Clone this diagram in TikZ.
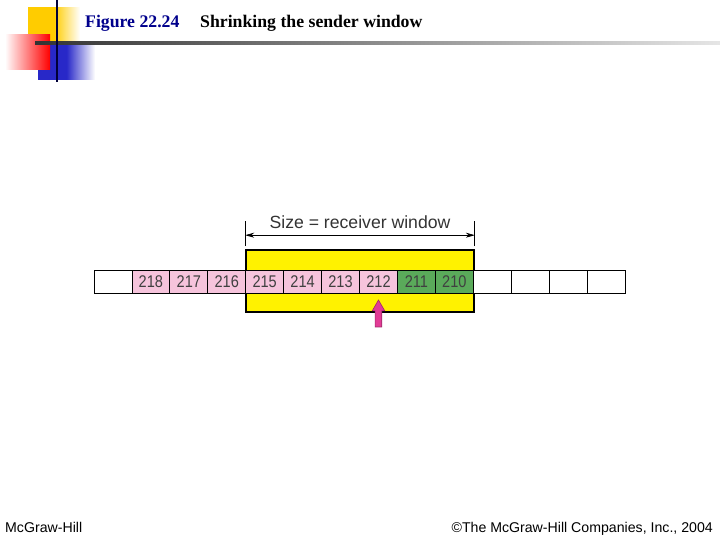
\documentclass[tikz,border=0pt]{standalone}
\usepackage{fontspec}
\setmainfont{Liberation Serif}
\setsansfont{Liberation Sans}
\newfontfamily\cellfont[FakeStretch=0.86]{Liberation Sans}
\usetikzlibrary{arrows.meta,positioning,shapes.arrows}
\definecolor{cellpink}{RGB}{246,196,220}
\definecolor{cellgreen}{RGB}{90,170,90}
\definecolor{navytitle}{RGB}{0,0,140}
\definecolor{ptrmag}{RGB}{226,60,150}
\definecolor{logoyel}{RGB}{255,204,0}
\definecolor{logoblue}{RGB}{40,40,200}

\begin{document}
\begin{tikzpicture}[x=1bp,y=-1bp,
    cell/.style={draw,line width=0.8pt,minimum width=37.93bp,minimum height=23bp,
      inner sep=0pt,font=\cellfont\fontsize{17}{17}\selectfont,text=black!75},
    winbox/.style={draw,line width=1.6pt,fill=yellow,minimum width=228bp,minimum height=62bp},
    foot/.style={font=\sffamily\fontsize{14.2}{15}\selectfont,inner sep=0pt}]
  \useasboundingbox (0,0) rectangle (720,540);
  % logo
  \shade[left color=logoyel,right color=white,middle color=logoyel] (28,8) rectangle (80,44);
  \shade[left color=logoblue,right color=white,middle color=logoblue] (38,45) rectangle (95,80);
  \shade[left color=white,right color=red] (5,35) rectangle (50,70);
  \shade[left color=black!80,right color=black!10] (35,41.5) rectangle (720,44.5);
  \draw[navytitle!40!black,line width=2.5pt] (57,0) -- (57,82);
  \node[anchor=base west,inner sep=0pt,text=navytitle,font=\bfseries\fontsize{17.8}{18}\selectfont] (fig) at (85,28) {Figure 22.24};
  \node[anchor=base west,inner sep=0pt,font=\bfseries\fontsize{17.8}{18}\selectfont] (ttl) at (200,28) {Shrinking the sender window};

  % window and cells
  \node[winbox] (win) at (360,281) {};
  \foreach \lbl/\col [count=\i] in {{}/white,218/cellpink,217/cellpink,216/cellpink,
      215/cellpink,214/cellpink,213/cellpink,212/cellpink,211/cellgreen,210/cellgreen,
      {}/white,{}/white,{}/white,{}/white}
    \node[cell,fill=\col] (c\i) at ({94+37.93*(\i-0.5)},281.5) {\lbl};

  % size of the window
  \coordinate (tlb) at ([yshift=3bp]win.north west);
  \coordinate (tlt) at ([yshift=28bp]win.north west);
  \coordinate (trb) at ([yshift=3bp]win.north east);
  \coordinate (trt) at ([yshift=28bp]win.north east);
  \coordinate (al) at ([yshift=14bp]win.north west);
  \coordinate (ar) at ([yshift=14bp]win.north east);
  \draw[line width=0.7pt] (tlb) -- (tlt) (trb) -- (trt);
  \draw[{Stealth[length=9bp,width=5bp]}-{Stealth[length=9bp,width=5bp]},line width=0.7pt] (al) -- (ar);
  \node[font=\sffamily\fontsize{17.7}{18}\selectfont,text=black!80,inner sep=0pt] (size) at (360,222) {Size = receiver window};

  % pointer
  \node[single arrow,shape border rotate=90,fill=ptrmag,draw=ptrmag!70!black,line width=0.6pt,
    minimum height=27bp,inner sep=3bp,single arrow head extend=3bp,single arrow tip angle=60,
    anchor=tip] (ptr) at ([yshift=-6bp]c8.south) {};

  % footer
  \node[foot,anchor=base west] (pub) at (5,532) {McGraw-Hill};
  \node[foot,anchor=base east] (copy) at (713,532) {©The McGraw-Hill Companies, Inc., 2004};
\end{tikzpicture}
\end{document}
